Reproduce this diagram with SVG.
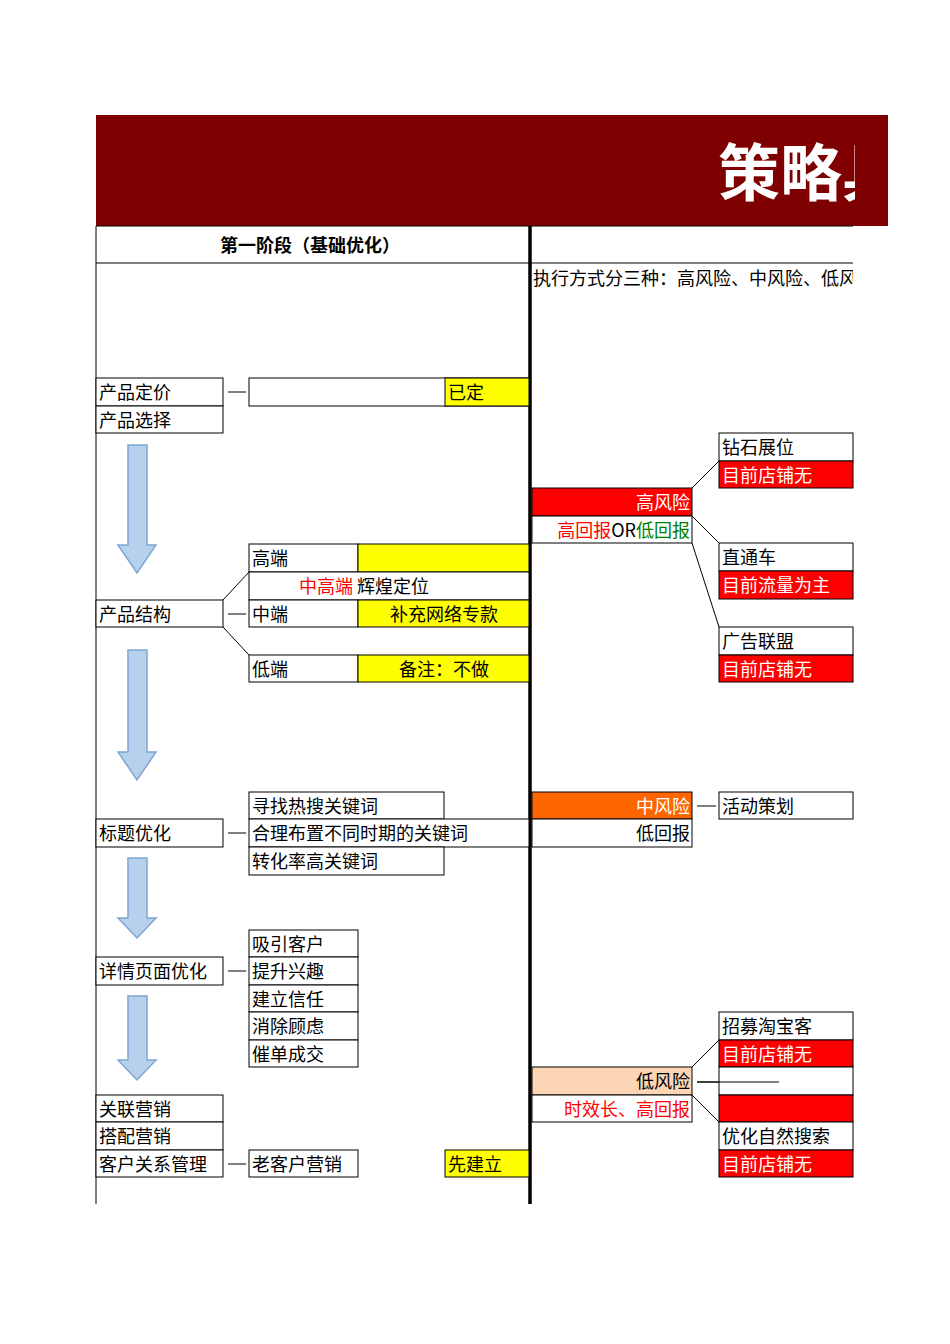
<svg xmlns="http://www.w3.org/2000/svg" width="950" height="1344" viewBox="0 0 950 1344">
<defs>
<style>
text{font-family:"Noto Sans CJK SC","Liberation Sans",sans-serif;font-size:18px;fill:#000}
.b{fill:#fff;stroke:#000;stroke-width:1}
.r{fill:#ff0000;stroke:#000;stroke-width:1}
.y{fill:#ffff00;stroke:#000;stroke-width:1}
.w{fill:#fff}
.red{fill:#ff0000}
.ln{stroke:#000;stroke-width:1;fill:none}
.arr{fill:#b7d1ec;stroke:#7ea6d2;stroke-width:1.5}
</style>
<clipPath id="c1"><rect x="96" y="100" width="759" height="140"/></clipPath>
<clipPath id="c2"><rect x="531" y="263" width="322" height="40"/></clipPath>
</defs>
<rect width="950" height="1344" fill="#fff"/>
<g id="title">
<rect x="96" y="115" width="792" height="111" fill="#7f0000"/>
<text x="718" y="196" clip-path="url(#c1)" style="font-size:62px;font-weight:bold;fill:#fff">策略具</text>
</g>
<g id="header">
<line class="ln" x1="96" y1="226" x2="853" y2="226"/>
<line class="ln" x1="96" y1="263" x2="853" y2="263"/>
<line class="ln" x1="96" y1="226" x2="96" y2="1204"/>
<line x1="530" y1="226" x2="530" y2="1204" stroke="#000" stroke-width="3.5"/>
<text x="310" y="252" text-anchor="middle" style="font-weight:bold">第一阶段（基础优化）</text>
<text x="533" y="285" clip-path="url(#c2)">执行方式分三种：高风险、中风险、低风险</text>
</g>
<g id="arrows">
<path class="arr" d="M128 445H147V545H156L137 573L118 545H128Z"/>
<path class="arr" d="M128 650H147V752H156L137 780L118 752H128Z"/>
<path class="arr" d="M128 858H147V918H156L137 938L118 918H128Z"/>
<path class="arr" d="M128 996H147V1060H156L137 1080L118 1060H128Z"/>
</g>
<g id="connectors">
<line class="ln" x1="228" y1="392" x2="246" y2="392"/>
<line class="ln" x1="228" y1="614" x2="246" y2="614"/>
<line class="ln" x1="223" y1="600" x2="249" y2="572"/>
<line class="ln" x1="223" y1="627" x2="249" y2="655"/>
<line class="ln" x1="228" y1="833" x2="246" y2="833"/>
<line class="ln" x1="228" y1="971" x2="246" y2="971"/>
<line class="ln" x1="228" y1="1164" x2="246" y2="1164"/>
<line class="ln" x1="692" y1="488" x2="719" y2="461"/>
<line class="ln" x1="692" y1="516" x2="719" y2="543"/>
<line class="ln" x1="692" y1="543" x2="719" y2="627"/>
<line class="ln" x1="697" y1="806" x2="716" y2="806"/>
<line class="ln" x1="692" y1="1067" x2="719" y2="1040"/>
<line class="ln" x1="692" y1="1095" x2="719" y2="1122"/>
<line class="ln" x1="697" y1="1082" x2="779" y2="1082"/>
</g>
<g id="pricing">
<rect class="b" x="96" y="378" width="127" height="28"/><text x="99" y="399">产品定价</text>
<rect class="b" x="96" y="406" width="127" height="27"/><text x="99" y="427">产品选择</text>
<rect class="b" x="249" y="378" width="280" height="28"/>
<rect class="y" x="445" y="378" width="84" height="28"/><text x="448" y="399">已定</text>
</g>
<g id="structure">
<rect class="b" x="96" y="600" width="127" height="27"/><text x="99" y="621">产品结构</text>
<rect class="b" x="249" y="544" width="109" height="28"/><text x="252" y="565">高端</text>
<rect class="y" x="358" y="544" width="171" height="28"/>
<rect class="b" x="249" y="572" width="280" height="28"/>
<text x="299" y="593"><tspan class="red">中高端</tspan> 辉煌定位</text>
<rect class="b" x="249" y="600" width="109" height="27"/><text x="252" y="621">中端</text>
<rect class="y" x="358" y="600" width="171" height="27"/><text x="444" y="621" text-anchor="middle">补充网络专款</text>
<rect class="b" x="249" y="655" width="109" height="27"/><text x="252" y="676">低端</text>
<rect class="y" x="358" y="655" width="171" height="27"/><text x="444" y="676" text-anchor="middle">备注：不做</text>
</g>
<g id="titleopt">
<rect class="b" x="96" y="819" width="127" height="28"/><text x="99" y="840">标题优化</text>
<rect class="b" x="249" y="792" width="195" height="27"/><text x="252" y="813">寻找热搜关键词</text>
<rect class="b" x="249" y="819" width="280" height="28"/><text x="252" y="840">合理布置不同时期的关键词</text>
<rect class="b" x="249" y="847" width="195" height="28"/><text x="252" y="868">转化率高关键词</text>
</g>
<g id="detail">
<rect class="b" x="96" y="957" width="127" height="28"/><text x="99" y="978">详情页面优化</text>
<rect class="b" x="249" y="930" width="109" height="27"/><text x="252" y="951">吸引客户</text>
<rect class="b" x="249" y="957" width="109" height="28"/><text x="252" y="978">提升兴趣</text>
<rect class="b" x="249" y="985" width="109" height="27"/><text x="252" y="1006">建立信任</text>
<rect class="b" x="249" y="1012" width="109" height="28"/><text x="252" y="1033">消除顾虑</text>
<rect class="b" x="249" y="1040" width="109" height="27"/><text x="252" y="1061">催单成交</text>
</g>
<g id="marketing">
<rect class="b" x="96" y="1095" width="127" height="27"/><text x="99" y="1116">关联营销</text>
<rect class="b" x="96" y="1122" width="127" height="28"/><text x="99" y="1143">搭配营销</text>
<rect class="b" x="96" y="1150" width="127" height="27"/><text x="99" y="1171">客户关系管理</text>
<rect class="b" x="249" y="1150" width="109" height="27"/><text x="252" y="1171">老客户营销</text>
<rect class="y" x="445" y="1150" width="84" height="27"/><text x="448" y="1171">先建立</text>
</g>
<g id="highrisk">
<rect class="r" x="532" y="488" width="160" height="28"/><text x="690" y="509" text-anchor="end" class="w">高风险</text>
<rect class="b" x="532" y="516" width="160" height="27"/>
<text x="690" y="537" text-anchor="end"><tspan class="red">高回报</tspan>OR<tspan style="fill:#008000">低回报</tspan></text>
<rect class="b" x="719" y="433" width="134" height="28"/><text x="722" y="454">钻石展位</text>
<rect class="r" x="719" y="461" width="134" height="27"/><text x="722" y="482" class="w">目前店铺无</text>
<rect class="b" x="719" y="543" width="134" height="28"/><text x="722" y="564">直通车</text>
<rect class="r" x="719" y="571" width="134" height="28"/><text x="722" y="592" class="w">目前流量为主</text>
<rect class="b" x="719" y="627" width="134" height="28"/><text x="722" y="648">广告联盟</text>
<rect class="r" x="719" y="655" width="134" height="27"/><text x="722" y="676" class="w">目前店铺无</text>
</g>
<g id="midrisk">
<rect x="532" y="792" width="160" height="27" fill="#ff6600" stroke="#000"/><text x="690" y="813" text-anchor="end" class="w">中风险</text>
<rect class="b" x="532" y="819" width="160" height="28"/><text x="690" y="840" text-anchor="end">低回报</text>
<rect class="b" x="719" y="792" width="134" height="27"/><text x="722" y="813">活动策划</text>
</g>
<g id="lowrisk">
<rect x="532" y="1067" width="160" height="28" fill="#fcd5b4" stroke="#000"/><text x="690" y="1088" text-anchor="end">低风险</text>
<rect class="b" x="532" y="1095" width="160" height="27"/><text x="690" y="1116" text-anchor="end" class="red">时效长、高回报</text>
<rect class="b" x="719" y="1012" width="134" height="28"/><text x="722" y="1033">招募淘宝客</text>
<rect class="r" x="719" y="1040" width="134" height="27"/><text x="722" y="1061" class="w">目前店铺无</text>
<rect class="b" x="719" y="1067" width="134" height="28"/>
<rect class="r" x="719" y="1095" width="134" height="27"/>
<rect class="b" x="719" y="1122" width="134" height="28"/><text x="722" y="1143">优化自然搜索</text>
<rect class="r" x="719" y="1150" width="134" height="27"/><text x="722" y="1171" class="w">目前店铺无</text>
<line class="ln" x1="697" y1="1082" x2="779" y2="1082"/>
</g>
</svg>
